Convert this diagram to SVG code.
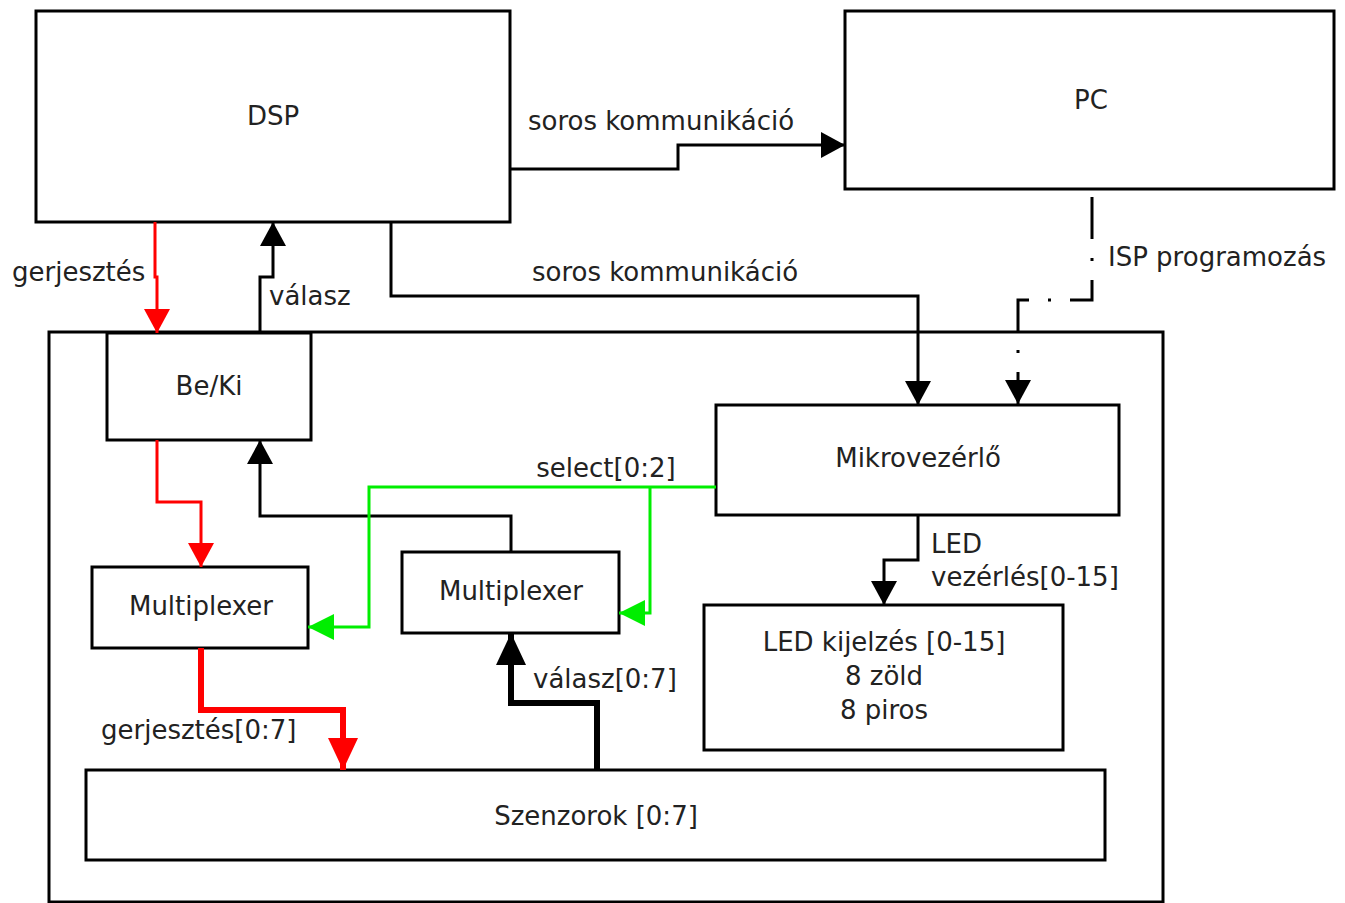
<svg xmlns="http://www.w3.org/2000/svg" width="1345" height="903" viewBox="0 0 1345 903">
<style>
.box{fill:#fff;stroke:#000;stroke-width:3}
.t{font-family:"DejaVu Sans",sans-serif;font-size:26px;fill:#222}
.m{text-anchor:middle}
.k{fill:none;stroke:#000;stroke-width:3}
.r{fill:none;stroke:#f00;stroke-width:3}
.g{fill:none;stroke:#0e0;stroke-width:3}
.thick{stroke-width:6}
</style>
<defs>
<marker id="ab" viewBox="0 0 24 26" refX="24" refY="13" markerWidth="24" markerHeight="26" markerUnits="userSpaceOnUse" orient="auto"><path d="M0,0L24,13L0,26z" fill="#000"/></marker>
<marker id="ar" viewBox="0 0 24 26" refX="24" refY="13" markerWidth="24" markerHeight="26" markerUnits="userSpaceOnUse" orient="auto"><path d="M0,0L24,13L0,26z" fill="#f00"/></marker>
<marker id="ag" viewBox="0 0 26 26" refX="26" refY="13" markerWidth="26" markerHeight="26" markerUnits="userSpaceOnUse" orient="auto"><path d="M0,0L26,13L0,26z" fill="#0e0"/></marker>
<marker id="abL" viewBox="0 0 32 30" refX="32" refY="15" markerWidth="32" markerHeight="30" markerUnits="userSpaceOnUse" orient="auto"><path d="M0,0L32,15L0,30z" fill="#000"/></marker>
<marker id="arL" viewBox="0 0 32 30" refX="32" refY="15" markerWidth="32" markerHeight="30" markerUnits="userSpaceOnUse" orient="auto"><path d="M0,0L32,15L0,30z" fill="#f00"/></marker>
</defs>
<rect width="1345" height="903" fill="#fff"/>
<g id="outer"><rect class="box" x="49" y="332" width="1114" height="570" fill="none"/></g>
<g id="dsp"><rect class="box" x="36" y="11" width="474" height="211"/><text class="t m" x="273" y="125">DSP</text></g>
<g id="pc"><rect class="box" x="845" y="11" width="489" height="178"/><text class="t m" x="1091" y="109">PC</text></g>
<g id="beki"><rect class="box" x="107" y="333" width="204" height="107"/><text class="t m" x="209" y="395">Be/Ki</text></g>
<g id="mikro"><rect class="box" x="716" y="405" width="403" height="110"/><text class="t m" x="918" y="467">Mikrovezérlő</text></g>
<g id="mux1"><rect class="box" x="92" y="567" width="216" height="81"/><text class="t m" x="201" y="615">Multiplexer</text></g>
<g id="mux2"><rect class="box" x="402" y="552" width="217" height="81"/><text class="t m" x="511" y="600">Multiplexer</text></g>
<g id="led"><rect class="box" x="704" y="605" width="359" height="145"/><text class="t m" x="884" y="651">LED kijelzés [0-15]</text><text class="t m" x="884" y="685">8 zöld</text><text class="t m" x="884" y="719">8 piros</text></g>
<g id="szenz"><rect class="box" x="86" y="770" width="1019" height="90"/><text class="t m" x="596" y="825">Szenzorok [0:7]</text></g>
<g id="connectors">
<path class="k" d="M510,169H678V145H845" marker-end="url(#ab)"/>
<text class="t m" x="661" y="130">soros kommunikáció</text>
<path class="k" d="M391,222V296H918V405" marker-end="url(#ab)"/>
<text class="t m" x="665" y="281">soros kommunikáció</text>
<path class="k" d="M1092,197V300H1018V404" stroke-dasharray="42 19 3 19" marker-end="url(#ab)"/>
<text class="t" x="1108" y="266">ISP programozás</text>
<path class="r" d="M155,222V277H157V333" marker-end="url(#ar)"/>
<text class="t" x="12" y="281">gerjesztés</text>
<path class="k" d="M260,333V277H273V222" marker-end="url(#ab)"/>
<text class="t" x="269" y="305">válasz</text>
<path class="r" d="M157,440V502H201V567" marker-end="url(#ar)"/>
<path class="k" d="M511,552V516H260V440" marker-end="url(#ab)"/>
<path class="g" d="M716,487H369V627H308" marker-end="url(#ag)"/>
<path class="g" d="M650,487V613H619" marker-end="url(#ag)"/>
<text class="t m" x="606" y="477">select[0:2]</text>
<path class="k" d="M918,515V560H884V605" marker-end="url(#ab)"/>
<text class="t" x="931" y="553">LED</text>
<text class="t" x="931" y="586">vezérlés[0-15]</text>
<path class="r thick" d="M201,648V710H343V770" marker-end="url(#arL)"/>
<text class="t" x="101" y="739">gerjesztés[0:7]</text>
<path class="k thick" d="M597,770V703H511V633" marker-end="url(#abL)"/>
<text class="t" x="533" y="688">válasz[0:7]</text>
</g>
</svg>
